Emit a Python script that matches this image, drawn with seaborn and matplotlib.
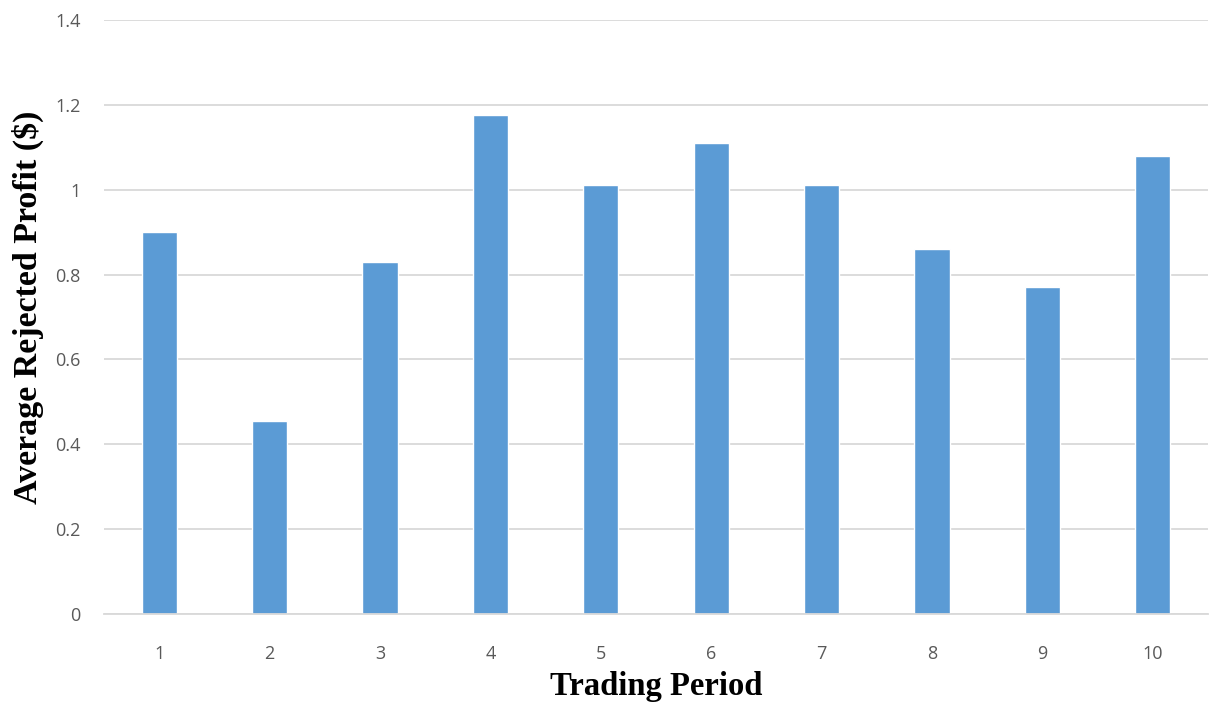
import matplotlib
matplotlib.use("Agg")
import matplotlib.pyplot as plt
import seaborn as sns
import pandas as pd
from matplotlib.ticker import FuncFormatter

periods = ["1", "2", "3", "4", "5", "6", "7", "8", "9", "10"]
avg_rejected_profit = [0.90, 0.455, 0.83, 1.175, 1.01, 1.11, 1.01, 0.86, 0.77, 1.08]
y_ticks = [0, 0.2, 0.4, 0.6, 0.8, 1.0, 1.2, 1.4]

df = pd.DataFrame({"period": periods, "profit": avg_rejected_profit})

sns.set_theme(style="white")

fig = plt.figure(figsize=(12.11, 7.08), dpi=100)
ax = fig.add_axes([0.0859, 0.1328, 0.9116, 0.839])

sns.barplot(data=df, x="period", y="profit", order=periods, color="#5b9bd5",
            saturation=1, width=0.32, ax=ax)

ax.set_ylim(0, 1.4)
ax.set_yticks(y_ticks)
ax.yaxis.set_major_formatter(FuncFormatter(lambda v, _: f"{v:g}"))
ax.set_xlim(-0.5, len(periods) - 0.5)

ax.grid(axis="y", color="#d9d9d9", linewidth=1.3)
ax.set_axisbelow(True)
for side in ["top", "right", "left"]:
    ax.spines[side].set_visible(False)
ax.spines["bottom"].set_color("#d9d9d9")
ax.spines["bottom"].set_linewidth(1.3)

ax.tick_params(axis="both", length=0, labelsize=13, labelcolor="#595959")
ax.tick_params(axis="y", pad=17)
ax.tick_params(axis="x", pad=22)
for lbl in ax.get_xticklabels() + ax.get_yticklabels():
    lbl.set_fontfamily("Open Sans")

label_font = dict(family="Liberation Serif", weight="bold", color="black")
ax.set_xlabel("Trading Period", labelpad=6, size=23.5, **label_font)
ax.set_ylabel("Average Rejected Profit ($)", labelpad=8, size=24.5, y=0.517,
              **label_font)

fig.savefig("out.png", dpi=100)
